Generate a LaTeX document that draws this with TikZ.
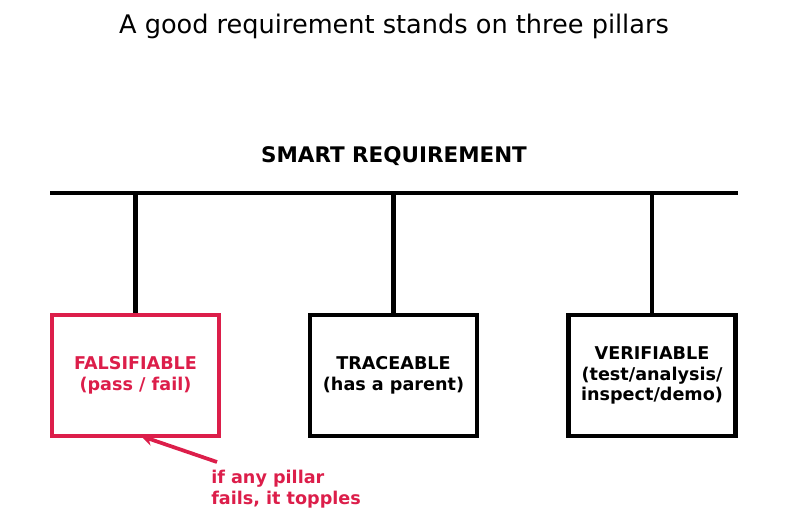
\documentclass[tikz,border=0pt]{standalone}
\usepackage{fontspec}
\setmainfont{DejaVu Sans}
\usetikzlibrary{arrows.meta}
\definecolor{warn}{RGB}{220,30,74}
\tikzset{
  pillar/.style={draw=black, line width=3.2pt, minimum width=167*0.75pt, minimum height=121*0.75pt, inner sep=0pt, align=center, font=\fontsize{13.2}{15.6}\selectfont\bfseries},
  beam/.style={line width=3.2pt},
  note/.style={font=\fontsize{13.2}{15.8}\selectfont\bfseries, text=warn, align=left, inner sep=0pt}
}
\begin{document}
\begin{tikzpicture}[x=0.75pt,y=-0.75pt]
\useasboundingbox (0,0) rectangle (787,524);
\node (title) at (394,26) {\fontsize{19.2}{23}\selectfont A good requirement stands on three pillars};
\node (smart) at (394,156) {\fontsize{16.1}{19}\selectfont\bfseries SMART REQUIREMENT};
\coordinate (bl) at (50,193);
\coordinate (br) at (738,193);
\draw[beam] (bl) -- (br);
\node[pillar, draw=warn, text=warn] (fal) at (135.5,375.5) {FALSIFIABLE\\(pass / fail)};
\node[pillar] (tra) at (393.5,375.5) {TRACEABLE\\(has a parent)};
\node[pillar] (ver) at (652,375.5) {VERIFIABLE\\(test/analysis/\\inspect/demo)};
\draw[beam] (fal.north |- bl) -- (fal.north);
\draw[beam] (tra.north |- bl) -- (tra.north);
\draw[beam] (ver.north |- bl) -- (ver.north);
\node[note, anchor=north west] (n) at (211,470) {if any pillar\\fails, it topples};
\coordinate (ns) at (217,462);
\draw[warn, line width=2.8pt, -{Stealth[length=9pt,width=9pt]}] (ns) -- (141,436);
\end{tikzpicture}
\end{document}
